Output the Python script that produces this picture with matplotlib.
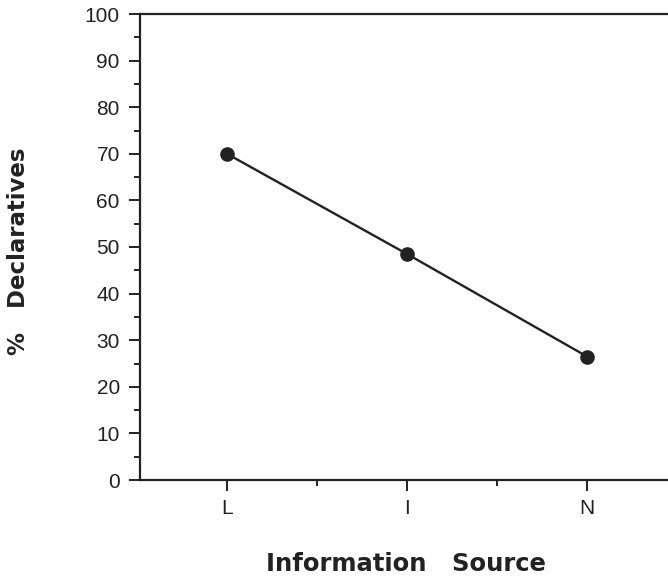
import matplotlib
matplotlib.use('Agg')
import matplotlib.pyplot as plt
from matplotlib.ticker import MultipleLocator

# values
sources = ['L', 'I', 'N']
declaratives = [70, 48.5, 26.5]

plt.rcParams['font.family'] = ['Liberation Sans', 'DejaVu Sans']
ink = '#222222'

fig = plt.figure(figsize=(6.68, 5.78), dpi=100)
# axes runs past the right edge of the figure, as the scan is cropped there
ax = fig.add_axes([140 / 668, 98 / 578, 900 / 668, 466 / 578])

xs = list(range(1, len(sources) + 1))
ax.plot(xs, declaratives, color=ink, lw=1.7, marker='o', ms=9.5,
        markerfacecolor=ink, markeredgecolor=ink)

ax.set_xlim(1 - 87 / 180, 1 - 87 / 180 + 900 / 180)
ax.set_ylim(0, 100)

ax.set_xticks(xs)
ax.set_xticklabels(sources)
ax.set_xticks([1.5, 2.5, 3.5], minor=True)
ax.yaxis.set_major_locator(MultipleLocator(10))
ax.yaxis.set_minor_locator(MultipleLocator(5))

for s in ax.spines.values():
    s.set_color(ink)
    s.set_linewidth(1.6)
ax.spines['right'].set_visible(False)

ax.tick_params(which='major', direction='out', length=8, width=1.4,
               color=ink, labelsize=15, labelcolor=ink)
ax.tick_params(which='minor', direction='out', length=4, width=1.4, color=ink)
ax.tick_params(axis='y', pad=6.5)
ax.tick_params(axis='x', pad=6)

# axis titles are wide and letter-spaced in the scan, DejaVu bold is close
ax.set_xlabel('Information   Source', fontsize=17.5, fontweight='bold',
              color=ink, family='DejaVu Sans', va='center')
ax.xaxis.set_label_coords((406 - 140) / 900, -(564 - 480) / 466)
ax.set_ylabel('%   Declaratives', fontsize=16.5, fontweight='bold',
              color=ink, family='DejaVu Sans', va='center')
ax.yaxis.set_label_coords(-(140 - 19) / 900, (480 - 251) / 466)

fig.savefig('out.png', dpi=100)
